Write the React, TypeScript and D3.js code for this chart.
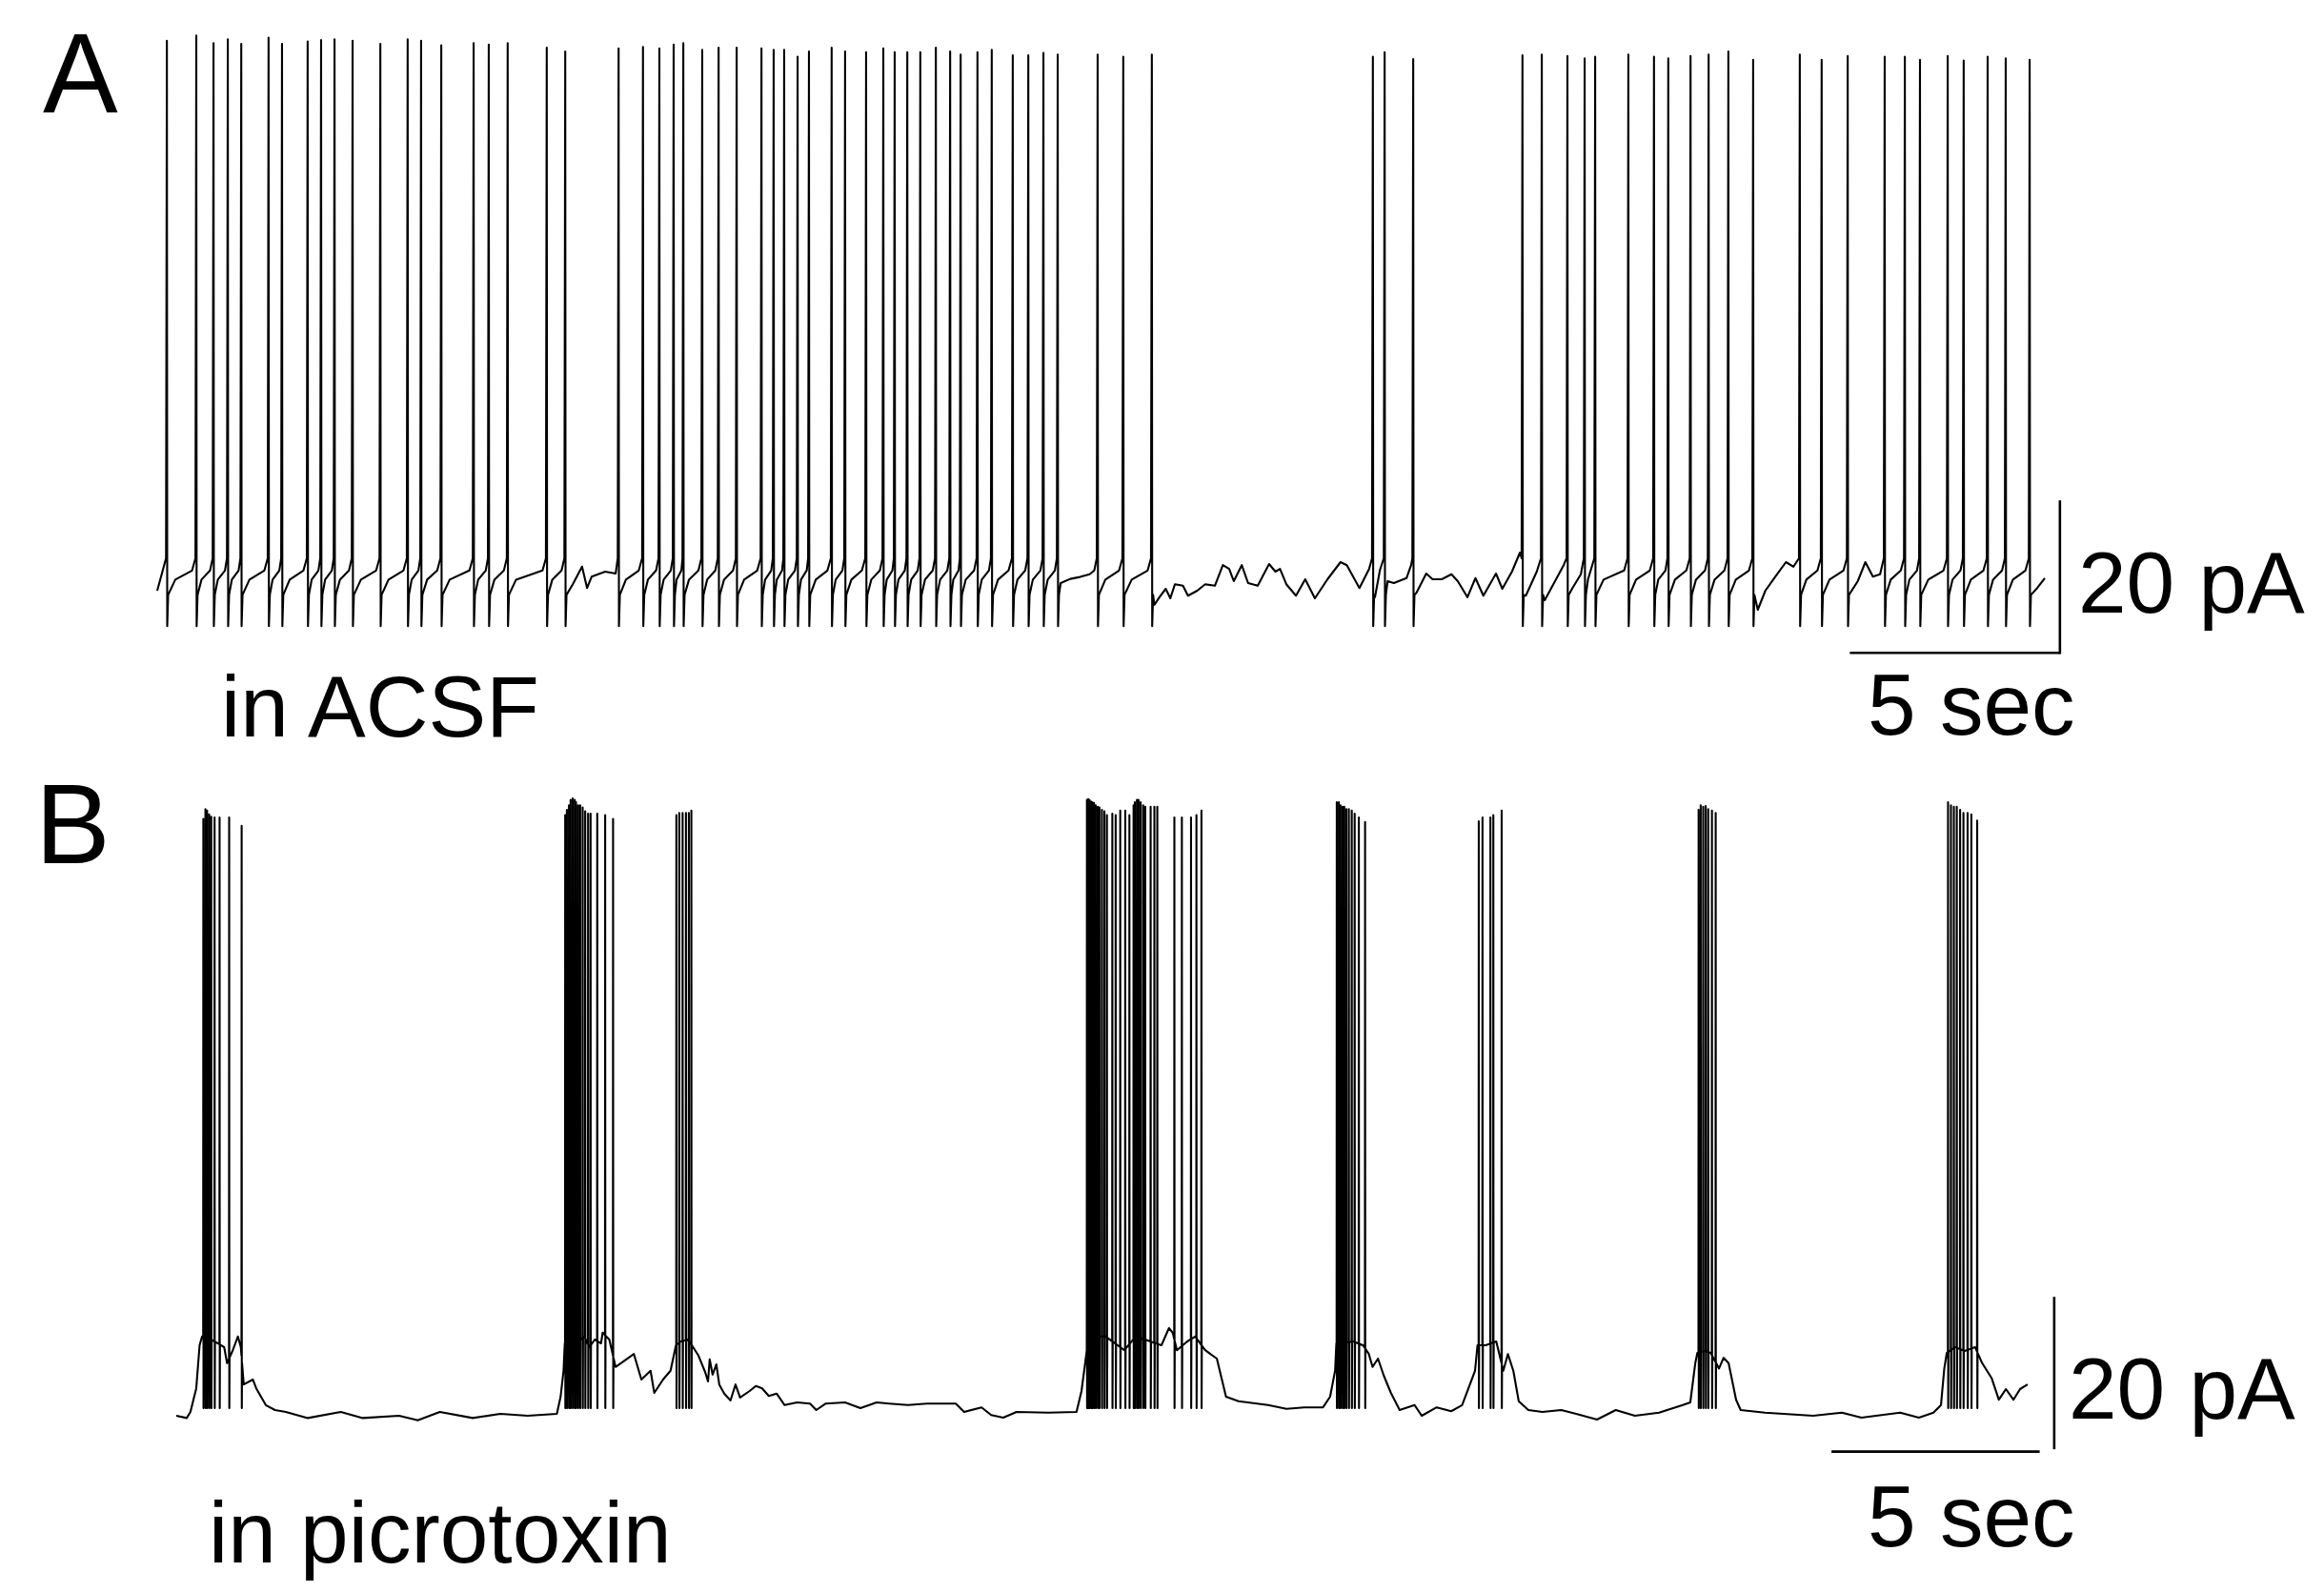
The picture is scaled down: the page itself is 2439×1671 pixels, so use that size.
import React, { useMemo } from 'react';
import * as d3 from 'd3';

// ---------- Panel A (in ACSF): regular firing ----------
// spike times (s) and peak amplitudes (pA)
const spikeTimesA = [
  0.23, 0.93, 1.34, 1.68, 2.0, 2.65, 2.97, 3.58, 3.9, 4.22, 4.65, 5.31, 5.96, 6.28, 6.76, 7.53, 7.89, 8.34, 9.27, 9.71,
  10.98, 11.56, 11.95, 12.29, 12.52, 12.97, 13.36, 13.79, 14.38, 14.67, 14.92, 15.24, 15.51, 16.05, 16.37, 16.87,
  17.28, 17.55, 17.85, 18.16, 18.53, 18.87, 19.12, 19.52, 19.86, 20.36, 20.73, 21.09, 21.43, 22.38, 22.99, 23.67,
  28.93, 29.21, 29.89, 32.49, 32.95, 33.56, 33.97, 34.22, 35.01, 35.62, 35.96, 36.49, 36.92, 37.39, 37.98, 39.09,
  39.61, 40.23, 41.11, 41.59, 41.95, 42.61, 42.99, 43.56, 43.99, 44.56,
];
const spikePeaksA = [
  70.9, 71.6, 70.6, 71.1, 70.5, 71.3, 70.5, 70.8, 71.0, 71.1, 70.9, 70.5, 71.1, 70.9, 70.3, 70.6, 70.4, 70.6, 70.0, 69.5,
  69.9, 70.1, 69.9, 70.4, 70.6, 69.7, 70.0, 70.0, 69.9, 69.7, 69.7, 68.8, 69.5, 70.0, 69.5, 69.4,
  69.9, 69.4, 69.4, 69.4, 70.0, 69.5, 69.1, 69.4, 69.7, 69.0, 69.0, 69.3, 69.1, 69.1, 68.8, 69.1,
  68.8, 69.4, 68.5, 69.0, 69.1, 68.9, 68.6, 68.8, 69.1, 68.8, 68.6, 68.9, 69.1, 69.5, 68.4, 69.1,
  68.4, 68.9, 68.8, 68.8, 68.4, 68.9, 68.3, 68.8, 68.6, 68.4,
];
// typical levels around each spike (pA)
const troughA = -5.9;
const preSpikeA = 3.0;
const postSpikeA = -1.8;
const recoveryA = 0.2;
const rampA = 1.4;
// resting trace in pauses (s, pA)
const restingA: [number, number][] = [
  [0, -1.25],
  [9.89, -0.4], [10.11, 1.9], [10.23, -0.9], [10.34, 0.6], [10.66, 1.25], [10.91, 1.0],
  [21.5, -0.25], [21.73, 0.3], [21.96, 0.55], [22.19, 0.9], [22.3, 1.4],
  [23.73, -3.1], [23.85, -2.1], [24.0, -1.0], [24.11, -2.25], [24.22, -0.4], [24.41, -0.6], [24.53, -1.9],
  [24.75, -1.25], [24.94, -0.4], [25.17, -0.6], [25.36, 2.1], [25.51, 1.6], [25.62, 0], [25.81, 2.1],
  [25.96, -0.25], [26.19, -0.6], [26.46, 2.25], [26.61, 1.25], [26.72, 1.6], [26.87, -0.4], [27.1, -1.9],
  [27.32, 0.25], [27.55, -2.25], [27.85, 0.25], [28.16, 2.5], [28.31, 2.1], [28.61, -0.9], [28.84, 1.6],
  [28.98, -2.1], [29.1, 1.5],
  [29.28, 0], [29.43, -0.25], [29.73, 0.4], [29.84, 2.1],
  [29.97, -1.5], [30.2, 1.0], [30.35, 0.25], [30.57, 0.25], [30.8, 0.9], [30.95, 0], [31.18, -2.1], [31.37, 0.4],
  [31.56, -1.9], [31.86, 1.0], [32.01, -1.0], [32.24, 1.25], [32.43, 3.75],
  [32.57, -1.9], [32.83, 1.25],
  [33.02, -2.5], [33.47, 2.1],
  [33.67, -1.0], [33.88, 0.9],
  [34.05, 0.25],
  [38.09, -3.75], [38.27, -1.25], [38.51, 0.6], [38.76, 2.5], [38.94, 1.9],
  [40.47, 0], [40.65, 2.5], [40.83, 0.6], [41.0, 0.9],
  [44.74, -0.9], [44.92, 0.4],
];

// ---------- Panel B (in picrotoxin): bursts ----------
const spikeTimesB = [
  0.65, 0.7, 0.74, 0.79, 0.84, 0.92, 1.04, 1.27, 1.57,
  9.34, 9.38, 9.43, 9.47, 9.52, 9.57, 9.6, 9.65, 9.7, 9.76, 9.82, 9.89, 9.95, 10.11, 10.3, 10.49,
  12.01, 12.08, 12.16, 12.24, 12.31, 12.37,
  21.87, 21.9, 21.93, 21.97, 22.0, 22.04, 22.08, 22.13, 22.17, 22.23, 22.29, 22.35, 22.48, 22.56, 22.67, 22.79,
  22.89, 22.99, 23.02, 23.07, 23.11, 23.16, 23.22, 23.27, 23.4, 23.49, 23.56, 23.97, 24.15, 24.37, 24.5, 24.62,
  27.87, 27.92, 27.96, 28.01, 28.05, 28.1, 28.16, 28.23, 28.3, 28.4, 28.55,
  31.28, 31.37, 31.56, 31.63, 31.83,
  36.56, 36.61, 36.67, 36.73, 36.79, 36.88, 36.97,
  42.55, 42.62, 42.69, 42.76, 42.84, 42.92, 43.02, 43.11, 43.25,
];
const spikePeaksB = [
  78.3, 79.6, 79.4, 78.9, 78.6, 78.5, 78.5, 78.5, 77.4,
  78.8, 79.5, 80.1, 80.8, 81.0, 80.8, 80.5, 80.1, 80.1, 79.8, 79.3, 79.0, 79.0, 79.0, 78.8, 78.3,
  78.8, 79.1, 79.1, 79.1, 79.1, 79.4,
  80.8, 80.9, 80.8, 80.6, 80.5, 80.4, 80.1, 79.9, 79.8, 79.5, 79.3, 78.8, 79.0, 78.8, 79.4, 79.4,
  78.8, 80.1, 80.5, 80.8, 80.8, 80.5, 80.1, 79.9, 79.9, 79.9, 79.9, 78.5, 78.5, 78.5, 78.8, 79.4,
  80.5, 80.5, 80.1, 79.9, 79.9, 79.6, 79.6, 79.4, 79.0, 78.5, 77.9,
  78.0, 78.5, 78.5, 78.8, 79.4,
  79.5, 80.1, 79.9, 80.0, 79.6, 79.4, 79.1,
  80.5, 80.1, 79.9, 79.9, 79.5, 79.1, 79.1, 78.9, 78.1,
];
const troughB = 1.0;
// resting / plateau trace (s, pA)
const restingB: [number, number][] = [
  [0, 0], [0.25, -0.3], [0.34, 0.5], [0.48, 3.6], [0.56, 9.25], [0.62, 10.4], [0.8, 10.1], [1.0, 9.5], [1.15, 9.0],
  [1.22, 6.9], [1.35, 8.5], [1.48, 10.4], [1.55, 9.0],
  [1.62, 4.1], [1.84, 4.75], [1.92, 3.6], [2.15, 1.4], [2.37, 0.75], [2.63, 0.5], [3.16, -0.3], [3.95, 0.5],
  [4.48, -0.3], [5.35, 0], [5.8, -0.6], [6.33, 0.5], [7.12, -0.3], [7.78, 0.25], [8.44, 0], [9.14, 0.25],
  [9.23, 2.5], [9.3, 5.9], [9.33, 9.5],
  [9.45, 10.4], [9.62, 9.5], [9.8, 10.4], [9.92, 9.0], [10.05, 10.0], [10.2, 9.5], [10.24, 10.9], [10.4, 10.0],
  [10.55, 6.4], [10.99, 8.1], [11.17, 4.75], [11.39, 5.9], [11.48, 3.0], [11.69, 4.75], [11.87, 5.9], [12.0, 9.25],
  [12.12, 9.75], [12.28, 10.0],
  [12.4, 9.1], [12.54, 7.9], [12.7, 5.75], [12.77, 4.5], [12.81, 7.4], [12.88, 5.4], [12.97, 6.75], [13.04, 4.1],
  [13.16, 2.9], [13.31, 2.0], [13.43, 4.1], [13.54, 2.4], [13.77, 3.25], [13.92, 3.9], [14.07, 3.6], [14.23, 2.6],
  [14.42, 2.9], [14.61, 1.4], [14.91, 1.75], [15.22, 1.6], [15.37, 0.75], [15.6, 1.6], [16.06, 1.75], [16.43, 1.0],
  [16.82, 1.75], [17.12, 1.6], [17.57, 1.4], [18.03, 1.6], [18.35, 1.6], [18.72, 1.6], [18.92, 0.5], [19.34, 1.1],
  [19.57, 0.1], [19.86, -0.25], [20.18, 0.5], [20.94, 0.4], [21.62, 0.5], [21.74, 3.25], [21.82, 6.6],
  [21.91, 10.4], [22.32, 10.4], [22.77, 8.6], [23.04, 10.4], [23.66, 9.25], [23.84, 11.5], [23.93, 10.9],
  [24.03, 8.6], [24.28, 9.75], [24.47, 10.4], [24.71, 8.6], [24.99, 7.5], [25.21, 2.5], [25.51, 1.9],
  [26.22, 1.4], [26.66, 0.9], [27.09, 1.1], [27.54, 1.1], [27.71, 2.5], [27.83, 5.9],
  [27.86, 9.5], [28.26, 9.75], [28.5, 9.25],
  [28.64, 8.1], [28.73, 6.4], [28.86, 7.5], [29.0, 5.25], [29.17, 3.0], [29.38, 0.75], [29.74, 1.4], [29.91, 0],
  [30.27, 1.1], [30.62, 0.6], [30.88, 1.4], [31.19, 5.9], [31.25, 9.25],
  [31.45, 9.25], [31.7, 9.75],
  [31.87, 5.9], [31.98, 8.1], [32.11, 5.9], [32.24, 1.9], [32.47, 0.75], [32.81, 0.5], [33.26, 0.75], [33.62, 0.25],
  [34.12, -0.5], [34.57, 0.75], [35.03, 0], [35.61, 0.4], [36.18, 1.4], [36.36, 1.75], [36.48, 6.9], [36.53, 8.25],
  [36.7, 8.5], [36.85, 8.25],
  [37.05, 6.2], [37.16, 7.6], [37.28, 6.9], [37.46, 2.1], [37.57, 0.75], [38.15, 0.4], [39.31, 0], [40.0, 0.4],
  [40.47, -0.25], [41.4, 0.4], [41.85, -0.25], [42.2, 0.4], [42.38, 1.4], [42.46, 6.2], [42.52, 8.25],
  [42.72, 9.0], [42.95, 8.5], [43.2, 9.0],
  [43.37, 6.9], [43.6, 4.9], [43.77, 2.1], [43.94, 3.5], [44.12, 2.1], [44.28, 3.5], [44.46, 4.1],
];

// scale bars (5 sec, 20 pA)
const SCALE_SEC = 5;
const SCALE_PA = 20;

// ---------- layout ----------
const W = 2439;
const H = 1671;
const FONT = 'Arial, "Liberation Sans", Helvetica, sans-serif';
const LABEL_SIZE = 91;
const TRACE_W = 2.1;

const xA = d3.scaleLinear().domain([0, 5]).range([165, 385.5]);
const yA = d3.scaleLinear().domain([0, 20]).range([610, 450]);
const xB = d3.scaleLinear().domain([0, 5]).range([185, 403.5]);
const yB = d3.scaleLinear().domain([0, 20]).range([1486, 1326]);

const PRE_DT = 0.02;
const TROUGH_DT = 0.008;
const POST_DT = 0.03;

function buildTraceA(): [number, number][] {
  const out: [number, number][] = [];
  const n = spikeTimesA.length;
  for (let i = 0; i <= n; i++) {
    const tPrev = i === 0 ? null : spikeTimesA[i - 1];
    const tNext = i === n ? null : spikeTimesA[i];
    const lo = tPrev === null ? -Infinity : tPrev + POST_DT;
    const hi = tNext === null ? Infinity : tNext - PRE_DT;
    const inside = restingA.filter(([t]) => t > lo && t < hi);
    if (tPrev !== null) {
      out.push([tPrev + TROUGH_DT, troughA]);
      out.push([tPrev + POST_DT, postSpikeA]);
    }
    if (inside.length) {
      out.push(...inside);
    } else if (tPrev !== null && tNext !== null) {
      const isi = tNext - tPrev;
      out.push([tPrev + Math.min(0.2, 0.3 * isi), recoveryA]);
      out.push([tNext - Math.min(0.1, 0.2 * isi), rampA]);
    }
    if (tNext !== null) {
      out.push([tNext - PRE_DT, preSpikeA]);
      out.push([tNext, spikePeaksA[i]]);
    }
  }
  return out;
}

function buildTraceB(): [number, number][] {
  const base = d3
    .scaleLinear()
    .domain(restingB.map((d) => d[0]))
    .range(restingB.map((d) => d[1]))
    .clamp(true);
  const ev: [number, number][] = [];
  spikeTimesB.forEach((t, i) => {
    ev.push([t - 0.004, base(t - 0.004)]);
    ev.push([t, spikePeaksB[i]]);
    ev.push([t + 0.004, troughB]);
    ev.push([t + 0.009, base(t + 0.009)]);
  });
  const kept = restingB.filter(([t]) => !spikeTimesB.some((s) => t > s - 0.005 && t < s + 0.01));
  return [...kept, ...ev].sort((a, b) => a[0] - b[0]);
}

export default function App() {
  const pathA = useMemo(() => {
    const line = d3
      .line<[number, number]>()
      .x((d) => xA(d[0]))
      .y((d) => yA(d[1]));
    return line(buildTraceA()) || '';
  }, []);
  const pathB = useMemo(() => {
    const line = d3
      .line<[number, number]>()
      .x((d) => xB(d[0]))
      .y((d) => yB(d[1]));
    return line(buildTraceB()) || '';
  }, []);

  // scale bar anchors
  const sbA = { t: 40.28, p: -9.4 };
  const sbB = { t: 39.75, p: -4.7, vt: 45.1, vp: -4.4 };

  const txt = { fontFamily: FONT, fill: '#000' } as const;

  return (
    <svg
      width={W}
      height={H}
      viewBox={`0 0 ${W} ${H}`}
      style={{ position: 'absolute', left: 0, top: 0, background: '#fff', display: 'block' }}
    >
      <rect x={0} y={0} width={W} height={H} fill="#fff" />
      {/* Panel A */}
      <text x={45} y={118} fontSize={118} {...txt}>A</text>
      <path d={pathA} fill="none" stroke="#000" strokeWidth={TRACE_W} strokeLinejoin="round" />
      <line
        x1={xA(sbA.t)} x2={xA(sbA.t + SCALE_SEC)} y1={yA(sbA.p)} y2={yA(sbA.p)}
        stroke="#000" strokeWidth={2.6}
      />
      <line
        x1={xA(sbA.t + SCALE_SEC)} x2={xA(sbA.t + SCALE_SEC)} y1={yA(sbA.p) + 1.3} y2={yA(sbA.p + SCALE_PA)}
        stroke="#000" strokeWidth={2.6}
      />
      <text x={2181} y={643} fontSize={LABEL_SIZE} {...txt}>20 pA</text>
      <text x={1960} y={771} fontSize={LABEL_SIZE} {...txt}>5 sec</text>
      <text x={232} y={773} fontSize={LABEL_SIZE} {...txt}>in ACSF</text>

      {/* Panel B */}
      <text x={37} y={906} fontSize={118} {...txt}>B</text>
      <path d={pathB} fill="none" stroke="#000" strokeWidth={TRACE_W} strokeLinejoin="round" />
      <line
        x1={xB(sbB.t)} x2={xB(sbB.t + SCALE_SEC)} y1={yB(sbB.p)} y2={yB(sbB.p)}
        stroke="#000" strokeWidth={2.6}
      />
      <line
        x1={xB(sbB.vt)} x2={xB(sbB.vt)} y1={yB(sbB.vp)} y2={yB(sbB.vp + SCALE_PA)}
        stroke="#000" strokeWidth={2.6}
      />
      <text x={2171} y={1489} fontSize={LABEL_SIZE} {...txt}>20 pA</text>
      <text x={1960} y={1623} fontSize={LABEL_SIZE} {...txt}>5 sec</text>
      <text x={219} y={1640} fontSize={LABEL_SIZE} {...txt}>in picrotoxin</text>
    </svg>
  );
}
